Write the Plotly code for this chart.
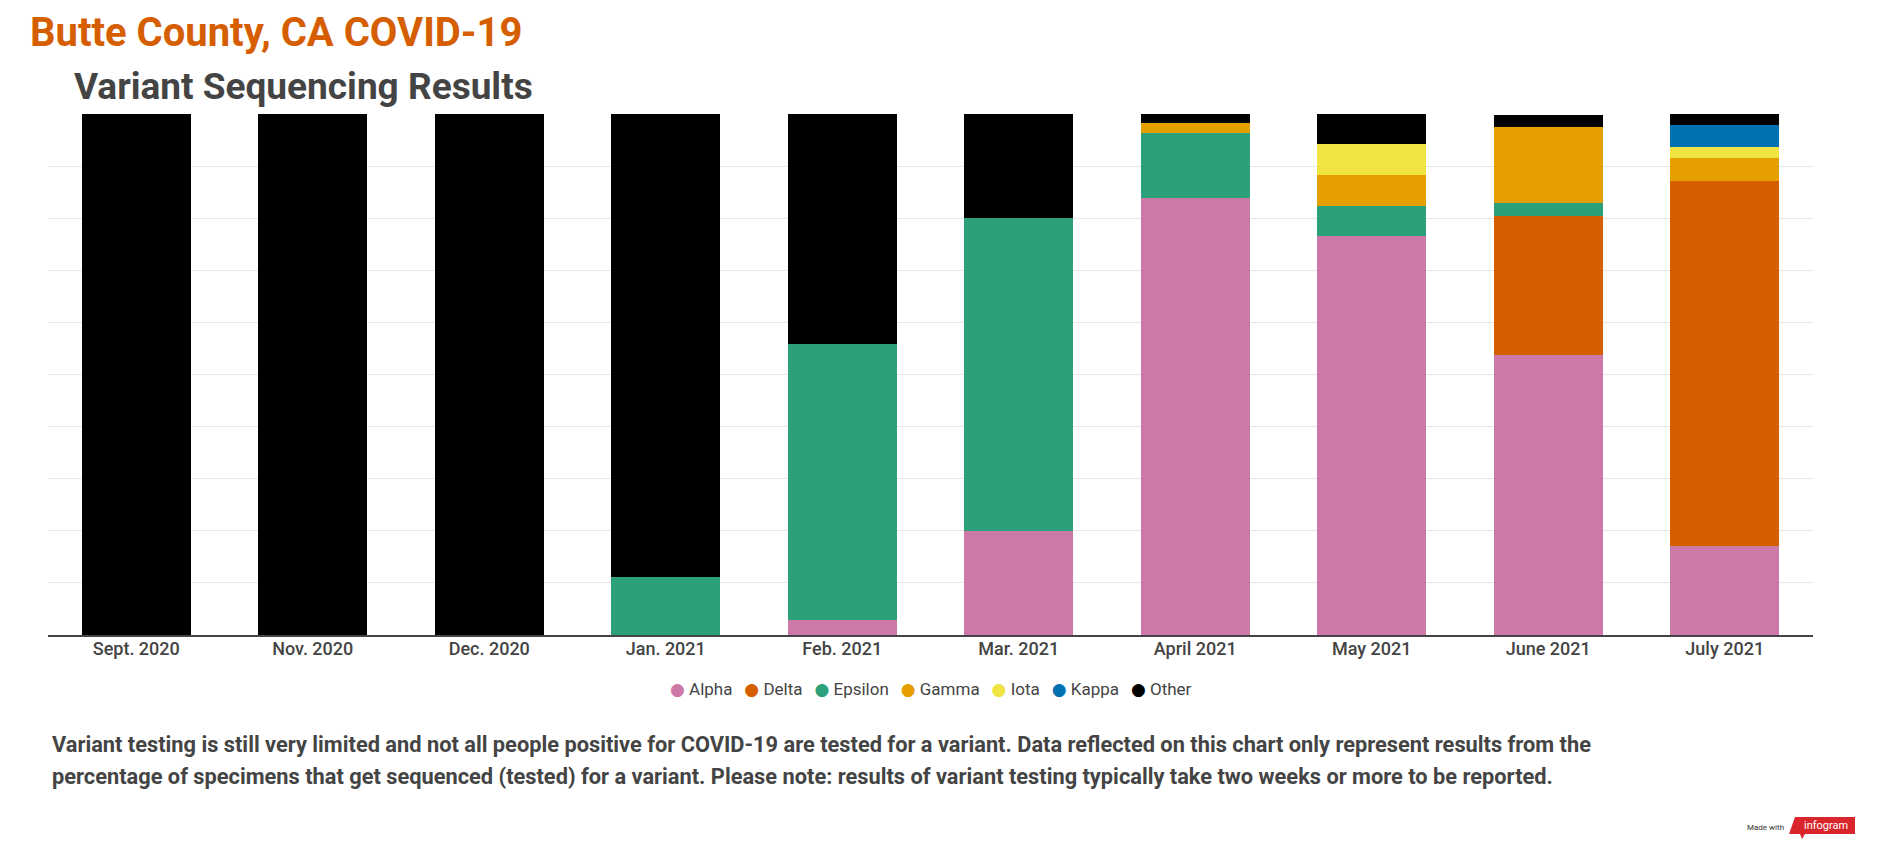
import plotly.graph_objects as go

# --- DATA (share of sequenced specimens, %) ---
months = ["Sept. 2020", "Nov. 2020", "Dec. 2020", "Jan. 2021", "Feb. 2021",
          "Mar. 2021", "April 2021", "May 2021", "June 2021", "July 2021"]

alpha   = [0, 0, 0, 0, 2.86, 20.0, 83.9, 76.5, 53.7, 17.0]
delta   = [0, 0, 0, 0, 0, 0, 0, 0, 26.8, 70.2]
epsilon = [0, 0, 0, 11.1, 52.9, 60.0, 12.5, 5.9, 2.4, 0]
gamma   = [0, 0, 0, 0, 0, 0, 1.8, 5.9, 14.6, 4.3]
iota    = [0, 0, 0, 0, 0, 0, 0, 5.9, 0, 2.1]
kappa   = [0, 0, 0, 0, 0, 0, 0, 0, 0, 4.3]
other   = [100, 100, 100, 88.9, 44.3, 20.0, 1.8, 5.9, 2.4, 2.1]

variants = ["Alpha", "Delta", "Epsilon", "Gamma", "Iota", "Kappa", "Other"]
series = [alpha, delta, epsilon, gamma, iota, kappa, other]
colors = ["#cc79a7", "#d55e00", "#2ca07a", "#e69f00", "#f0e442", "#0072b2", "#000000"]

footnote = [
    "Variant testing is still very limited and not all people positive for COVID-19 are tested "
    "for a variant. Data reflected on this chart only represent results from the",
    "percentage of specimens that get sequenced (tested) for a variant. Please note: results of "
    "variant testing typically take two weeks or more to be reported.",
]

# --- CONFIG ---
# the page body has an 8px margin, so the figure sits at (8, 8) in the window
OX, OY = 8, 8
W, H = 1878 - 2 * OX, 849 - 2 * OY
L, R, T, B = 48, 1813, 114, 635  # plot area, window pixels
FONT = "Roboto"


def px(x):
    return (x - L) / (R - L)


def py(y):
    return (B - y) / (B - T)


fig = go.Figure()

for name, vals, col in zip(variants, series, colors):
    fig.add_trace(go.Bar(
        x=months, y=vals, name=name,
        marker=dict(color=col, line=dict(width=0)),
        hovertemplate=name + ": %{y:.1f}%<extra></extra>",
    ))

fig.update_layout(
    width=W, height=H,
    margin=dict(l=L - OX, r=W + OX - R, t=T - OY, b=H + OY - B),
    barmode="stack",
    bargap=0.38,
    plot_bgcolor="white",
    paper_bgcolor="white",
    font=dict(family=FONT, color="#444444"),
    showlegend=False,
)

fig.update_xaxes(
    showgrid=False, showline=True, linecolor="#444444", linewidth=2,
    ticks="", ticklabelstandoff=-4,
    tickfont=dict(size=18, color="#444444", weight=500),
)
fig.update_yaxes(
    range=[0, 100], dtick=10, showgrid=True, gridcolor="#e6e6e6", gridwidth=1,
    showticklabels=False, zeroline=False, ticks="",
)

# --- LEGEND (dot + name, tight spacing like the original) ---
gap = "\u00a0\u00a0\u2009"
dot = '<span style="color:{};font-family:DejaVu Sans;font-size:17px">\u25cf</span>'
legend_text = gap.join(
    dot.format(c) + "\u00a0" + n for n, c in zip(variants, colors)
)
fig.add_annotation(
    text=legend_text, xref="paper", yref="paper",
    x=0.5, y=py(689), xanchor="center", yanchor="middle", showarrow=False,
    font=dict(size=17, color="#444444", family=FONT),
)

# --- TITLES ---
fig.add_annotation(
    text="<b>Butte County, CA COVID-19</b>", xref="paper", yref="paper",
    x=px(28), y=py(33), xanchor="left", yanchor="middle", showarrow=False,
    font=dict(size=40, color="#d55e00", family=FONT),
)
fig.add_annotation(
    text="<b>Variant Sequencing Results</b>", xref="paper", yref="paper",
    x=px(72), y=py(86), xanchor="left", yanchor="middle", showarrow=False,
    font=dict(size=37, color="#444444", family=FONT),
)

# --- FOOTNOTE ---
for i, line in enumerate(footnote):
    fig.add_annotation(
        text="<b>" + line + "</b>", xref="paper", yref="paper",
        x=px(50), y=py(744 + 32 * i), xanchor="left", yanchor="middle", showarrow=False,
        font=dict(size=21.8, color="#444444", family=FONT),
    )

# --- "Made with infogram" badge ---
fig.add_annotation(
    text="Made with", xref="paper", yref="paper",
    x=px(1786), y=py(827), xanchor="right", yanchor="middle", showarrow=False,
    font=dict(size=8, color="#333333", family=FONT),
)
fig.add_shape(
    type="path", xref="paper", yref="paper", layer="above", line=dict(width=0),
    fillcolor="#d8262c",
    path=(f"M {px(1795)} {py(817)} L {px(1855)} {py(817)} L {px(1855)} {py(834)} "
          f"L {px(1805)} {py(834)} L {px(1802)} {py(839)} L {px(1800)} {py(834)} "
          f"L {px(1789)} {py(834)} Z"),
)
fig.add_annotation(
    text="infogram", xref="paper", yref="paper",
    x=px(1826), y=py(825), xanchor="center", yanchor="middle", showarrow=False,
    font=dict(size=11, color="white", family=FONT),
)

fig.write_html("out.html")
